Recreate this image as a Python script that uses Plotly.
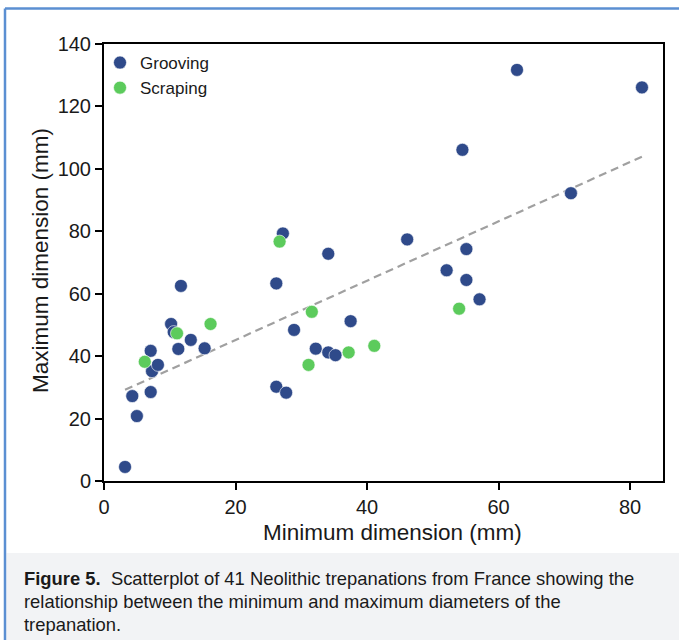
import plotly.graph_objects as go

# ---- data ----
grooving_min = [3.2, 4.3, 5.0, 7.1, 7.1, 7.3, 8.2, 10.2, 10.6, 11.3, 11.7, 13.2, 15.3,
                26.2, 26.2, 27.7, 28.9, 32.2, 34.1, 35.2, 37.5, 27.2, 34.1,
                62.8, 81.8, 54.5, 71.0, 46.1, 55.1, 52.1, 55.1, 57.1]
grooving_max = [4.5, 27.2, 20.8, 28.5, 41.7, 35.2, 37.2, 50.3, 47.7, 42.3, 62.5, 45.2, 42.5,
                63.3, 30.2, 28.3, 48.4, 42.4, 41.2, 40.3, 51.2, 79.3, 72.8,
                131.7, 126.1, 106.1, 92.2, 77.4, 74.3, 67.5, 64.4, 58.2]
scraping_min = [6.2, 11.1, 16.2, 26.7, 31.6, 31.1, 37.2, 41.1, 54.0]
scraping_max = [38.2, 47.3, 50.3, 76.7, 54.2, 37.2, 41.2, 43.3, 55.2]
trend_x = [3.2, 81.8]
trend_y = [29.2, 103.9]
x_ticks = [0, 20, 40, 60, 80]
y_ticks = [0, 20, 40, 60, 80, 100, 120, 140]
caption_lines = [
    "<b>Figure 5.</b>  Scatterplot of 41 Neolithic trepanations from France showing the",
    "relationship between the minimum and maximum diameters of the",
    "trepanation.",
]

W, H = 679, 640
L, R, T, B = 104, 663, 44, 481
pw, ph = R - L, B - T


def px(X):
    return (X - L) / pw


def py(Y):
    return (B - Y) / ph


FONT = "Liberation Sans, Arial, sans-serif"
BLUE = "#2f4a8a"
GREEN = "#5ccb5c"
TXT = "#1a1a1a"

fig = go.Figure()
fig.add_trace(go.Scatter(x=trend_x, y=trend_y, mode="lines", showlegend=False,
                         line=dict(color="#a0a0a0", width=2.2, dash="8px,5px"),
                         hoverinfo="skip"))
fig.add_trace(go.Scatter(x=grooving_min, y=grooving_max, mode="markers", name="Grooving",
                         marker=dict(color=BLUE, size=13, line=dict(width=0.6, color="white"))))
fig.add_trace(go.Scatter(x=scraping_min, y=scraping_max, mode="markers", name="Scraping",
                         marker=dict(color=GREEN, size=13, line=dict(width=0.6, color="white"))))

axis_common = dict(showline=True, linecolor="black", linewidth=2, mirror=True,
                   ticks="outside", ticklen=7, tickwidth=1.6, tickcolor="black",
                   showgrid=False, zeroline=False,
                   tickfont=dict(family=FONT, size=20, color=TXT))

fig.update_xaxes(range=[0, 85], tickvals=x_ticks, **axis_common)
fig.update_yaxes(range=[0, 140], tickvals=y_ticks, **axis_common)

shapes = [
    # caption background
    dict(type="rect", xref="paper", yref="paper", x0=px(6.5), x1=px(680), y0=py(553), y1=py(641),
         fillcolor="#f2f3f5", line=dict(width=0), layer="below"),
    # blue frame
    dict(type="line", xref="paper", yref="paper", x0=px(5), x1=px(680), y0=py(8.5), y1=py(8.5),
         line=dict(color="#5b8fd2", width=2.5)),
    dict(type="line", xref="paper", yref="paper", x0=px(5), x1=px(5), y0=py(8.5), y1=py(641),
         line=dict(color="#5b8fd2", width=2.5)),
]

annotations = [
    dict(text="Minimum dimension (mm)", xref="paper", yref="paper", x=px(392), y=py(532),
         showarrow=False, font=dict(family=FONT, size=22.5, color=TXT),
         xanchor="center", yanchor="middle"),
    dict(text="Maximum dimension (mm)", xref="paper", yref="paper", x=px(40), y=py(261),
         showarrow=False, textangle=-90, font=dict(family=FONT, size=22.5, color=TXT),
         xanchor="center", yanchor="middle"),
]
for i, line in enumerate(caption_lines):
    annotations.append(dict(text=line, xref="paper", yref="paper", x=px(22), y=py(578 + 23 * i),
                            showarrow=False, xanchor="left", yanchor="middle", align="left",
                            font=dict(family=FONT, size=18.4, color=TXT)))

fig.update_layout(
    width=W, height=H,
    margin=dict(l=L, r=W - R, t=T, b=H - B, pad=0),
    paper_bgcolor="white", plot_bgcolor="white",
    shapes=shapes, annotations=annotations,
    legend=dict(x=px(100), y=py(45), xanchor="left", yanchor="top",
                bgcolor="rgba(0,0,0,0)", font=dict(family=FONT, size=17, color=TXT),
                itemwidth=30, tracegroupgap=0),
    showlegend=True,
)

fig.write_html("out.html", config={"displayModeBar": False},
               post_script="document.body.style.margin='0px';document.body.style.overflow='hidden';")
